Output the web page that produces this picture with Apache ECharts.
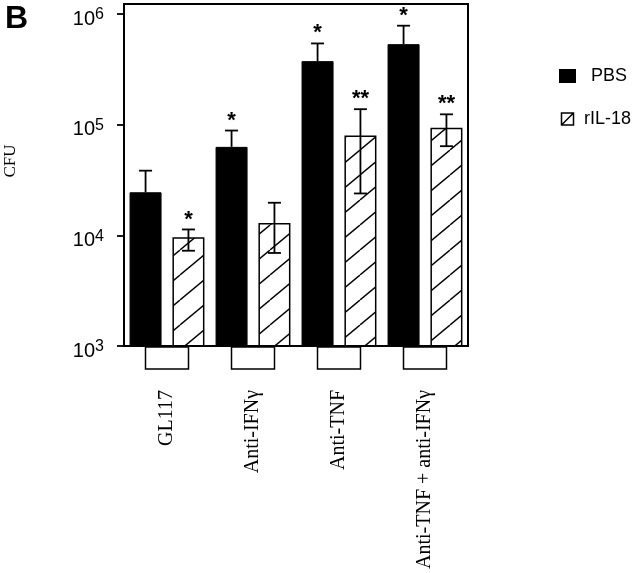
<!DOCTYPE html>
<html><head><meta charset="utf-8">
<script src="https://cdn.jsdelivr.net/npm/echarts@6/dist/echarts.min.js"></script>
<style>html,body{margin:0;padding:0;background:#fff}#c{width:640px;height:573px}</style>
</head><body><div id="c"></div>
<script>
// ---- data ----
const categories = ['GL117', 'Anti-IFNγ', 'Anti-TNF', 'Anti-TNF + anti-IFNγ'];
const pbsMean  = [24500, 63000, 375000, 534000];
const pbsUpper = [38400, 88500, 542000, 784000];
const rilMean  = [9600, 12900, 80000, 94000];
const rilUpper = [11300, 19700, 138000, 124000];
const rilLower = [7260, 6930, 23900, 63900];
const pbsSig = ['', '*', '*', '*'];
const rilSig = ['*', '', '**', '**'];
const yMin = 1000, yMax = 1000000;

// ---- styling constants ----
const BAR_W = 32, BAR_GAP = 0.34, CAP = 6.5;
const OFF = (BAR_W + BAR_W * BAR_GAP) / 2;

// hatch pattern
const tile = document.createElement('canvas');
tile.width = 30; tile.height = 25;
const tc = tile.getContext('2d');
tc.fillStyle = '#fff'; tc.fillRect(0, 0, 30, 25);
tc.strokeStyle = '#000'; tc.lineWidth = 1.4;
for (let k = -1; k <= 1; k++) {
  tc.beginPath(); tc.moveTo(k * 30, 25); tc.lineTo(k * 30 + 30, 0); tc.stroke();
}

function errSeries(name, dir, means, uppers, lowers, sigs) {
  return {
    type: 'custom', name: name, xAxisIndex: 0, yAxisIndex: 0, clip: false, z: 5,
    data: means.map((m, i) => [i, m, lowers[i], uppers[i]]),
    renderItem: function (params, api) {
      const i = api.value(0);
      const m = api.value(1), lo = api.value(2), hi = api.value(3);
      const cx = api.coord([i, m])[0] + dir * OFF;
      const yT = api.coord([i, hi])[1];
      const yB = api.coord([i, lo])[1];
      const st = { stroke: '#000', lineWidth: 1.8 };
      const ch = [
        { type: 'line', shape: { x1: cx, y1: yT, x2: cx, y2: yB }, style: st },
        { type: 'line', shape: { x1: cx - CAP, y1: yT, x2: cx + CAP, y2: yT }, style: st }
      ];
      if (lo < m) ch.push({ type: 'line', shape: { x1: cx - CAP, y1: yB, x2: cx + CAP, y2: yB }, style: st });
      if (sigs[i]) ch.push({ type: 'text', style: { text: sigs[i], x: cx, y: yT - 10, align: 'center', verticalAlign: 'middle', font: 'bold 22px "Liberation Sans", Arial', fill: '#000' } });
      return { type: 'group', children: ch };
    }
  };
}

const chart = echarts.init(document.getElementById('c'));
chart.setOption({
  animation: false,
  backgroundColor: '#fff',
  grid: [
    { left: 124, top: 14, width: 344, height: 332, show: false },
    { left: 124, top: 4, width: 344, height: 342, show: true, borderColor: '#000', borderWidth: 2, backgroundColor: 'transparent', z: 3 }
  ],
  xAxis: [
    { type: 'category', gridIndex: 0, data: categories,
      axisLine: { show: false }, axisTick: { show: false },
      axisLabel: { interval: 0, rotate: 90, margin: 44, color: '#000', fontFamily: 'Liberation Serif', fontSize: 20 } },
    { type: 'value', gridIndex: 1, show: false }
  ],
  yAxis: [
    { type: 'log', logBase: 10, gridIndex: 0, min: yMin, max: yMax,
      axisLine: { show: false }, splitLine: { show: false },
      axisTick: { show: true, inside: false, length: 7, lineStyle: { color: '#000', width: 1.8 } },
      axisLabel: { margin: 20, color: '#000', fontFamily: 'Liberation Sans', padding: [8, 0, 0, 0],
        formatter: v => '{b|10}{s|' + Math.round(Math.log10(v)) + '}',
        rich: { b: { fontSize: 20, fontFamily: 'Liberation Sans', color: '#000', verticalAlign: 'bottom', lineHeight: 22 },
                s: { fontSize: 16, fontFamily: 'Liberation Sans', color: '#000', verticalAlign: 'top', lineHeight: 22 } } } },
    { type: 'value', gridIndex: 1, show: false }
  ],
  legend: {
    orient: 'vertical', left: 554, top: 62, itemWidth: 15, itemHeight: 12, itemGap: 25,
    textStyle: { fontFamily: 'Liberation Sans', fontSize: 18, color: '#000' },
    data: [
      { name: 'PBS', icon: 'rect', textStyle: { padding: [0, 0, 0, 11] } },
      { name: 'rIL-18', icon: 'path://M0,0L12,0L12,12L0,12Z M0,12L12,0',
        itemStyle: { color: '#fff', borderColor: '#000', borderWidth: 1.5 }, textStyle: { padding: [0, 0, 0, 4] } }
    ]
  },
  graphic: [
    { type: 'text', left: 5, top: 3, style: { text: 'B', font: 'bold 32px "Liberation Sans", Arial', fill: '#000' } },
    { type: 'text', x: 11, y: 161, rotation: Math.PI / 2, style: { text: 'CFU', font: '17px "Liberation Serif", serif', fill: '#000', align: 'center', verticalAlign: 'middle' } }
  ],
  series: [
    { type: 'bar', name: 'PBS', data: pbsMean, barWidth: BAR_W, barGap: (BAR_GAP * 100) + '%',
      itemStyle: { color: '#000', borderColor: '#000', borderWidth: 1 } },
    { type: 'bar', name: 'rIL-18', data: rilMean, barWidth: BAR_W, barGap: (BAR_GAP * 100) + '%',
      itemStyle: { color: { image: tile, repeat: 'repeat' }, borderColor: '#000', borderWidth: 1.5 } },
    errSeries('pbsErr', -1, pbsMean, pbsUpper, pbsMean, pbsSig),
    errSeries('rilErr', 1, rilMean, rilUpper, rilLower, rilSig),
    { type: 'custom', name: 'boxes', xAxisIndex: 0, yAxisIndex: 0, clip: false, z: 6,
      data: categories.map((c, i) => [i, yMin]),
      renderItem: function (params, api) {
        const p = api.coord([api.value(0), api.value(1)]);
        return { type: 'rect', shape: { x: p[0] - 21.5, y: p[1] + 1, width: 43, height: 22 },
          style: { fill: '#fff', stroke: '#000', lineWidth: 1.5 } };
      } }
  ]
});
</script></body></html>
